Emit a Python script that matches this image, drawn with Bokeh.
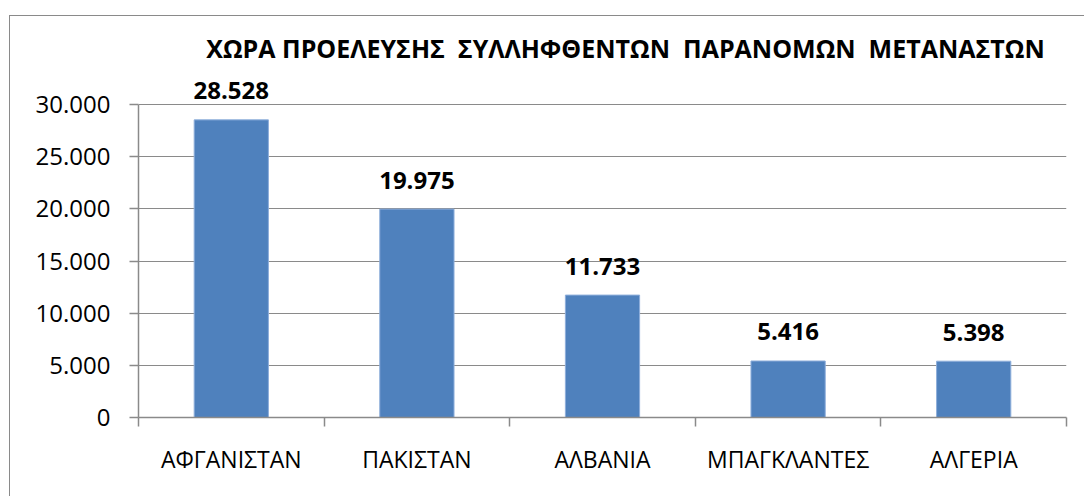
from bokeh.plotting import figure
from bokeh.models import ColumnDataSource, Range1d, FixedTicker, Label, InlineStyleSheet
from bokeh.core.properties import value
from bokeh.embed import file_html
from bokeh.resources import INLINE
import numpy as np

categories = ["ΑΦΓΑΝΙΣΤΑΝ", "ΠΑΚΙΣΤΑΝ", "ΑΛΒΑΝΙΑ", "ΜΠΑΓΚΛΑΝΤΕΣ", "ΑΛΓΕΡΙΑ"]
counts = [28528, 19975, 11733, 5416, 5398]
count_labels = ["28.528", "19.975", "11.733", "5.416", "5.398"]
y_ticks = [0, 5000, 10000, 15000, 20000, 25000, 30000]
y_tick_labels = ["0", "5.000", "10.000", "15.000", "20.000", "25.000", "30.000"]
title_text = "ΧΩΡΑ ΠΡΟΕΛΕΥΣΗΣ\u00a0\u00a0ΣΥΛΛΗΦΘΕΝΤΩΝ\u00a0\u00a0ΠΑΡΑΝΟΜΩΝ\u00a0\u00a0ΜΕΤΑΝΑΣΤΩΝ"

FONT = "Open Sans"
GREY = "#8a8a8a"

n = len(categories)
centers = (np.arange(n) + 0.5).tolist()
bounds_x = np.arange(n + 1).tolist()

src = ColumnDataSource(dict(x=centers, top=counts, label=count_labels))

W, H = 1068, 480
p = figure(width=W, height=H, output_backend="svg", toolbar_location=None,
           x_range=Range1d(0, n), y_range=Range1d(0, 37093),
           min_border_left=138, min_border_right=2, min_border_top=30, min_border_bottom=63)
p.title.visible = False
p.outline_line_color = None
p.background_fill_color = "white"
p.border_fill_color = "white"
# outer chart-area border: only its top and left edges fall inside the picture
p.stylesheets = [InlineStyleSheet(css=f"""
:host {{ position: relative; }}
:host::after {{
  content: ""; position: absolute; left: 9px; top: 15px; right: -20px; bottom: -20px;
  border-top: 1.5px solid {GREY}; border-left: 1.5px solid {GREY};
  pointer-events: none; z-index: 10;
}}
""")]

p.vbar(x="x", top="top", width=0.4, bottom=0, source=src,
       fill_color="#4F81BD", line_color="#8eaedb", line_width=1)

p.text(x="x", y="top", text="label", source=src, text_align="center",
       text_baseline="alphabetic", y_offset=-29,
       text_font=value(FONT), text_font_size="24px", text_font_style="bold",
       text_color="black")

p.add_layout(Label(x=n / 2, y=35380, x_offset=23, text=title_text, text_align="center",
                   text_baseline="middle", text_font=FONT, text_font_size="25px",
                   text_font_style="bold", text_color="black"))

p.yaxis.ticker = FixedTicker(ticks=y_ticks)
p.yaxis.bounds = (y_ticks[0], y_ticks[-1])
p.yaxis.major_label_overrides = {t: l for t, l in zip(y_ticks, y_tick_labels)}
p.yaxis.axis_line_color = GREY
p.yaxis.axis_line_width = 1.5
p.yaxis.major_tick_line_color = GREY
p.yaxis.major_tick_line_width = 1.5
p.yaxis.major_tick_out = 9
p.yaxis.major_tick_in = 0
p.yaxis.minor_tick_line_color = None
p.yaxis.major_label_standoff = 19
p.yaxis.major_label_text_font = FONT
p.yaxis.major_label_text_font_size = "24px"
p.yaxis.major_label_text_color = "black"

p.xaxis.ticker = FixedTicker(ticks=centers, minor_ticks=bounds_x)
p.xaxis.major_label_overrides = {c: name for c, name in zip(centers, categories)}
p.xaxis.axis_line_color = GREY
p.xaxis.axis_line_width = 1.5
p.xaxis.major_tick_line_color = None
p.xaxis.major_tick_out = 0
p.xaxis.major_tick_in = 0
p.xaxis.minor_tick_line_color = GREY
p.xaxis.minor_tick_line_width = 1.5
p.xaxis.minor_tick_out = 9
p.xaxis.minor_tick_in = 0
p.xaxis.major_label_standoff = 16
p.xaxis.major_label_text_font = FONT
p.xaxis.major_label_text_font_size = "23px"
p.xaxis.major_label_text_color = "black"

p.xgrid.grid_line_color = None
p.ygrid.ticker = FixedTicker(ticks=y_ticks)
p.ygrid.bounds = (y_ticks[0], y_ticks[-1])
p.ygrid.grid_line_color = GREY
p.ygrid.grid_line_width = 1.2

open("out.html", "w").write(file_html(p, INLINE))
